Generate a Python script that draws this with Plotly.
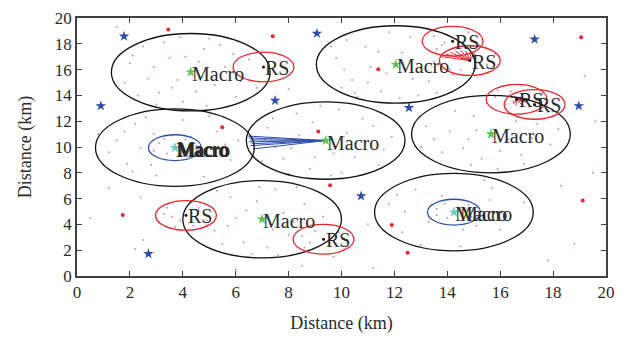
import plotly.graph_objects as go

# ---------------- data ----------------
macro_x = [4.3, 12.05, 3.7, 9.4, 15.65, 7.0, 14.25]
macro_y = [15.8, 16.4, 9.95, 10.5, 11.0, 4.4, 4.95]
macro_r = 3.0

# macros that also carry a small (blue) cell
small_idx = [2, 6]
small_r = 1.0

rs_x = [7.05, 14.2, 14.85, 16.62, 17.3, 4.12, 9.32]
rs_y = [16.2, 18.2, 16.7, 13.7, 13.3, 4.7, 2.85]
rs_r = 1.15

red_x = [3.45, 7.4, 5.49, 9.12, 11.39, 19.06, 1.73, 9.57, 11.9, 12.5, 19.12]
red_y = [19.1, 18.58, 11.54, 11.2, 16.03, 18.5, 4.72, 7.04, 3.96, 1.8, 5.85]

blue_x = [1.78, 0.9, 7.49, 9.07, 17.3, 12.55, 18.97, 2.7, 10.74]
blue_y = [18.58, 13.18, 13.6, 18.8, 18.35, 13.04, 13.18, 1.72, 6.2]

# blue links from macro 4 to users on its left
blue_link_src = 3
blue_link_x = [6.45, 6.5, 6.55, 6.5, 6.6, 6.55, 6.65]
blue_link_y = [10.85, 10.7, 10.55, 10.4, 10.25, 10.1, 9.85]

# red links from RS 3 and RS 4 to their users
red_link3_x = [13.8, 13.95, 14.1, 14.3, 14.5, 14.7, 14.9, 15.05]
red_link3_y = [17.0, 17.2, 17.35, 17.45, 17.5, 17.45, 17.4, 17.3]
red_link4_x = [17.1, 17.2, 17.0, 16.8, 16.6, 16.5]
red_link4_y = [13.75, 13.6, 13.45, 13.3, 13.2, 13.35]

# users (small dots)
user_pts = [
    (2.0,16.5),(2.5,17.8),(3.1,14.2),(3.5,16.9),(4.0,13.5),(4.8,17.6),(5.2,14.8),(5.6,16.2),
    (6.2,15.1),(2.7,15.3),(3.3,18.1),(4.5,14.3),(5.9,17.2),(1.8,15.0),(3.8,15.2),(6.5,16.8),
    (2.3,14.0),(5.0,18.4),(4.1,17.0),(3.0,13.3),(6.8,14.6),
    (2.9,16.2),(3.6,14.6),(4.6,16.6),(5.4,17.9),(6.0,13.9),(2.1,17.1),(4.9,13.2),(3.9,18.5),
    (9.8,16.9),(10.4,15.2),(10.9,17.8),(11.5,14.3),(12.6,18.5),(13.3,15.1),(13.8,17.9),(12.9,14.0),
    (11.1,16.2),(10.0,14.6),(14.2,15.6),(12.3,17.3),(9.6,17.8),(13.6,14.2),(11.8,18.9),(10.6,13.9),
    (14.5,16.0),(13.0,16.1),
    (10.2,18.3),(11.0,15.0),(12.7,15.3),(13.5,16.6),(11.4,17.4),(10.1,16.0),(12.2,13.8),(11.7,15.7),
    (13.5,18.6),(14.8,18.9),(15.2,17.9),(13.6,17.6),(15.5,16.4),(14.1,16.0),(15.8,17.2),(13.9,18.1),
    (1.5,10.5),(2.2,11.8),(2.8,8.6),(3.1,10.3),(3.4,9.5),(4.1,10.6),(4.4,9.3),(5.3,11.2),(5.8,9.0),
    (1.9,8.7),(2.6,12.3),(4.8,7.7),(6.1,10.5),(3.0,7.8),(1.2,9.6),(5.0,12.4),(2.9,11.0),(3.6,10.9),
    (4.5,10.1),(2.4,9.9),
    (3.3,10.6),(3.9,9.4),(2.9,9.7),(4.3,10.8),(1.8,11.2),(5.6,10.2),(4.0,12.1),(2.1,8.1),
    (7.2,11.5),(7.8,9.1),(8.3,12.6),(8.8,8.3),(9.9,12.9),(10.5,9.2),(11.2,11.6),(11.6,9.8),(7.5,10.0),
    (10.0,8.0),(11.9,10.8),(8.4,10.9),(9.2,13.2),(10.8,12.2),(7.0,8.9),(9.7,9.5),(8.0,7.9),(11.4,8.6),
    (7.4,12.2),(8.9,11.9),(10.2,11.1),(9.0,9.2),(10.9,10.3),(8.1,9.9),(9.6,7.8),(7.1,10.6),
    (13.2,11.6),(13.8,9.6),(14.3,12.8),(14.9,8.6),(16.2,13.0),(16.8,9.4),(17.4,11.8),(17.9,10.2),
    (15.1,11.3),(16.3,10.6),(13.5,10.6),(14.6,9.9),(17.0,12.6),(15.9,8.3),(18.2,11.4),(14.0,13.5),
    (16.6,12.0),(15.3,9.1),
    (14.1,11.2),(15.0,12.4),(16.0,9.7),(17.2,10.7),(13.0,10.0),(14.8,10.6),(16.9,8.7),(15.5,13.4),
    (15.8,13.9),(16.2,13.3),(17.6,14.1),(18.2,13.6),(16.9,12.6),(15.9,14.4),(17.8,12.7),(16.4,14.3),
    (16.8,13.9),(17.1,13.1),(16.5,13.5),(17.5,13.5),
    (4.6,5.3),(5.2,3.5),(5.8,6.1),(6.3,2.6),(7.5,6.7),(8.0,3.2),(8.6,5.6),(9.3,4.6),(6.0,4.5),
    (7.8,4.9),(5.5,2.5),(6.6,1.7),(9.0,3.5),(7.2,2.2),(4.9,4.0),(8.3,6.9),(6.8,5.8),(5.3,6.6),
    (6.4,5.1),(7.4,3.6),(8.2,4.2),(5.7,3.9),(6.9,6.9),(8.8,2.6),(7.6,1.6),
    (3.1,4.2),(3.4,5.3),(3.7,3.8),(4.6,5.1),(3.0,5.0),(3.6,4.6),(2.4,6.1),(4.9,4.3),
    (3.3,4.8),(3.9,4.3),(4.4,3.9),(3.5,5.6),
    (8.6,2.2),(9.9,3.4),(10.1,2.1),(8.5,3.1),(9.7,1.5),
    (11.8,5.6),(12.3,3.4),(12.8,6.7),(13.3,4.2),(13.6,5.2),(14.0,4.5),(14.8,5.5),(15.1,3.9),
    (15.7,6.8),(16.2,4.6),(16.7,3.2),(13.0,2.4),(14.5,2.3),(15.4,7.4),(16.9,5.7),(12.4,5.0),
    (13.8,6.2),(14.6,3.6),
    (13.6,4.7),(14.4,5.3),(13.9,5.6),(14.9,4.6),(13.4,5.5),(12.1,6.3),(16.0,3.6),(15.6,5.9),
    (0.5,4.5),(1.2,6.8),(2.5,2.8),(19.5,8.0),(18.8,2.5),(19.2,15.5),(1.5,19.3),(8.5,0.8),
    (11.2,0.6),(18.3,7.0),(10.5,14.2),(8.0,14.5),(0.8,11.0),(19.6,12.0),(11.0,4.0),(17.8,1.2),
    (2.2,2.1),(6.0,0.5),
]
user_x = [p[0] for p in user_pts]
user_y = [p[1] for p in user_pts]

x_ticks = list(range(0, 21, 2))
y_ticks = list(range(0, 21, 2))

# ---------------- styles ----------------
FONT = "Times New Roman, Liberation Serif, serif"
TXT = "#2a2a2a"
AX = "#404040"
RED = "#e8262b"
BLUE = "#2f4ea8"
GREEN = "#5ec45a"
CYAN = "#6cc9c4"
PINK = "#c66fc0"

fig = go.Figure()

# users
fig.add_trace(go.Scatter(x=user_x, y=user_y, mode="markers",
                         marker=dict(size=2, color=PINK, opacity=0.8), hoverinfo="skip"))

# links
def seg(sx, sy, ex, ey):
    xs, ys = [], []
    for a, b in zip(ex, ey):
        xs += [sx, a, None]
        ys += [sy, b, None]
    return xs, ys

bx, by = seg(macro_x[blue_link_src], macro_y[blue_link_src], blue_link_x, blue_link_y)
fig.add_trace(go.Scatter(x=bx, y=by, mode="lines", line=dict(color=BLUE, width=1), hoverinfo="skip"))
r3x, r3y = seg(rs_x[2], rs_y[2], red_link3_x, red_link3_y)
fig.add_trace(go.Scatter(x=r3x, y=r3y, mode="lines", line=dict(color=RED, width=1), hoverinfo="skip"))
r4x, r4y = seg(rs_x[3], rs_y[3], red_link4_x, red_link4_y)
fig.add_trace(go.Scatter(x=r4x, y=r4y, mode="lines", line=dict(color=RED, width=1), hoverinfo="skip"))

# red users / blue stars
fig.add_trace(go.Scatter(x=red_x, y=red_y, mode="markers",
                         marker=dict(size=4, color=RED), hoverinfo="skip"))
fig.add_trace(go.Scatter(x=blue_x, y=blue_y, mode="markers",
                         marker=dict(size=8, color=BLUE, symbol="star"), hoverinfo="skip"))

# macro stars
mcol = [CYAN if i in small_idx else GREEN for i in range(len(macro_x))]
fig.add_trace(go.Scatter(x=macro_x, y=macro_y, mode="markers",
                         marker=dict(size=8, color=mcol, symbol="star"), hoverinfo="skip"))
# RS dots
fig.add_trace(go.Scatter(x=rs_x, y=rs_y, mode="markers",
                         marker=dict(size=3, color="#111"), hoverinfo="skip"))

# circles
shapes = []
for cx, cy in zip(macro_x, macro_y):
    shapes.append(dict(type="circle", xref="x", yref="y", x0=cx - macro_r, x1=cx + macro_r,
                       y0=cy - macro_r, y1=cy + macro_r, line=dict(color="#111", width=1.3)))
for i in small_idx:
    cx, cy = macro_x[i], macro_y[i]
    shapes.append(dict(type="circle", xref="x", yref="y", x0=cx - small_r, x1=cx + small_r,
                       y0=cy - small_r, y1=cy + small_r, line=dict(color=BLUE, width=1.3)))
for cx, cy in zip(rs_x, rs_y):
    shapes.append(dict(type="circle", xref="x", yref="y", x0=cx - rs_r, x1=cx + rs_r,
                       y0=cy - rs_r, y1=cy + rs_r, line=dict(color=RED, width=1.3)))

# labels
ann = []
for i, (cx, cy) in enumerate(zip(macro_x, macro_y)):
    if i == 2:
        shifts = [(0, 0), (1, 0), (2, 0), (1, 1)]
    elif i == 6:
        shifts = [(0, 0), (5, 0)]
    else:
        shifts = [(0, 0)]
    for sx, sy in shifts:
        ann.append(dict(x=cx, y=cy, xref="x", yref="y", text="Macro", showarrow=False,
                        xanchor="left", yanchor="middle", xshift=sx - 1, yshift=sy - 2,
                        font=dict(family=FONT, size=20, color=TXT)))
for cx, cy in zip(rs_x, rs_y):
    ann.append(dict(x=cx, y=cy, xref="x", yref="y", text="RS", showarrow=False,
                    xanchor="left", yanchor="middle", xshift=0, yshift=-1,
                    font=dict(family=FONT, size=20, color=TXT)))

axis_common = dict(range=[0, 20], showgrid=False, zeroline=False, showline=True,
                   linecolor=AX, linewidth=1.5, mirror="ticks", ticks="inside",
                   ticklen=5, tickwidth=1.2, tickcolor=AX,
                   tickfont=dict(family=FONT, size=17, color=TXT))

fig.update_layout(
    width=632, height=341,
    margin=dict(l=77, r=26, t=9, b=65),
    paper_bgcolor="white", plot_bgcolor="white",
    showlegend=False,
    shapes=shapes, annotations=ann,
    xaxis=dict(**axis_common, tickvals=x_ticks, ticktext=[str(v) for v in x_ticks],
               title=dict(text="Distance (km)", font=dict(family=FONT, size=18, color=TXT), standoff=15)),
    yaxis=dict(**axis_common, tickvals=y_ticks, ticktext=[str(v) for v in y_ticks],
               title=dict(text="Distance (km)", font=dict(family=FONT, size=18, color=TXT), standoff=19)),
)

fig.write_html("out.html")
